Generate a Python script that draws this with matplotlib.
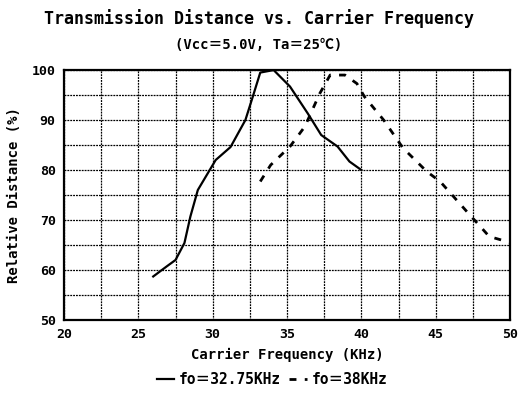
import matplotlib
matplotlib.use("Agg")
import matplotlib.pyplot as plt
import numpy as np

plt.rcParams['font.family'] = ['DejaVu Sans Mono', 'Noto Sans CJK JP']
plt.rcParams['font.weight'] = 'bold'

# fo = 32.75KHz (solid)
f1 = [26.0, 26.9, 27.5, 28.1, 28.5, 29.0, 30.2, 31.2, 32.2, 32.7, 33.2, 34.1, 35.2, 36.4, 37.3, 38.4, 39.2, 40.0]
d1 = [58.7, 60.7, 62.0, 65.4, 70.7, 76.0, 82.0, 84.6, 90.0, 94.7, 99.5, 100.0, 96.7, 91.3, 87.0, 84.7, 81.7, 80.0]
# fo = 38KHz (dashed)
f2 = [33.2, 33.9, 35.2, 36.2, 37.2, 37.9, 38.9, 39.7, 40.2, 41.5, 42.8, 44.4, 45.3, 47.3, 48.0, 48.6, 50.0]
d2 = [77.7, 81.0, 84.7, 88.7, 95.3, 99.0, 99.0, 97.3, 94.7, 90.0, 84.4, 79.7, 77.7, 71.0, 68.7, 66.7, 65.5]

xticks = [20, 25, 30, 35, 40, 45, 50]
yticks = [50, 60, 70, 80, 90, 100]

fig = plt.figure(figsize=(5.18, 4.05), dpi=100)
ax = fig.add_axes([0.1236, 0.21, 0.861, 0.617])

ax.plot(f1, d1, color='black', lw=1.6, ls='-', label='fo＝32.75KHz')
ax.plot(f2, d2, color='black', lw=2.0, ls=(0, (2.5, 3.0)), label='fo＝38KHz')

ax.set_xlim(20, 50)
ax.set_ylim(50, 100)
ax.set_xticks(xticks)
ax.set_yticks(yticks)
ax.set_xticks(np.arange(20, 50.1, 2.5), minor=True)
ax.set_yticks(np.arange(50, 100.1, 5), minor=True)
ax.grid(which='both', color='black', lw=0.9, ls=(0, (1.5, 0.8)))
ax.tick_params(which='both', length=0, labelsize=9.5, pad=6)
for lab in ax.get_xticklabels() + ax.get_yticklabels():
    lab.set_fontweight('bold')
for sp in ax.spines.values():
    sp.set_linewidth(1.6)

ax.set_xlabel('Carrier Frequency (KHz)', fontsize=10, fontweight='bold', labelpad=5)
ax.set_ylabel('Relative Distance (%)', fontsize=10, fontweight='bold', labelpad=8)

fig.text(0.5, 0.955, 'Transmission Distance vs. Carrier Frequency', ha='center', va='center',
         fontsize=12, fontweight='bold')
fig.text(0.5, 0.89, '(Vcc＝5.0V, Ta＝25℃)', ha='center', va='center', fontsize=10, fontweight='bold')

fig.legend(loc='center', bbox_to_anchor=(0.525, 0.062), ncol=2, frameon=False, handlelength=1.2,
           handletextpad=0.3, columnspacing=0.6, prop={'weight': 'bold', 'size': 10.5})

fig.savefig('out.png', dpi=100)
